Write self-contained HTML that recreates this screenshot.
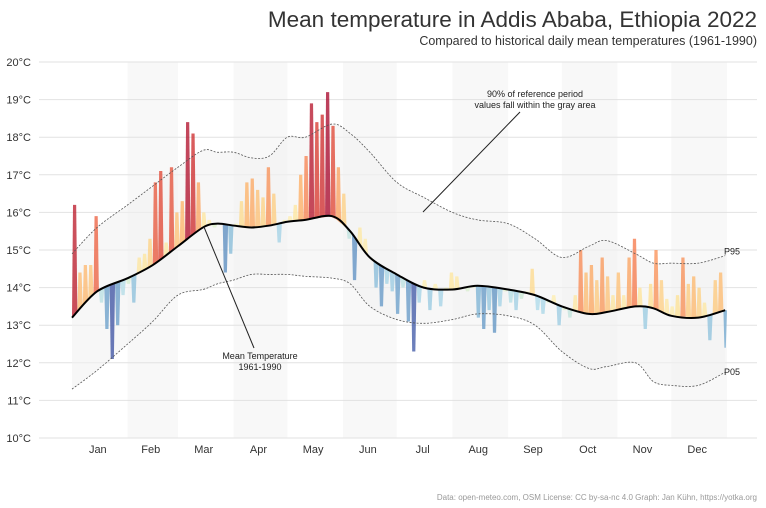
<!DOCTYPE html>
<html><head><meta charset="utf-8"><style>
body{margin:0;background:#fff;}
svg{display:block;font-family:"Liberation Sans",sans-serif;}
</style></head><body>
<svg id="chart" width="766" height="508" viewBox="0 0 766 508">
<g id="bands"></g><g id="grid"></g><g id="ref"></g><g id="bars"></g><g id="lines"></g><g id="labels"></g>
<text x="757" y="27" text-anchor="end" font-size="22.5" fill="#333">Mean temperature in Addis Ababa, Ethiopia 2022</text>
<text x="757" y="45" text-anchor="end" font-size="12.5" fill="#333">Compared to historical daily mean temperatures (1961-1990)</text>
<text x="757" y="500" text-anchor="end" font-size="8" fill="#999">Data: open-meteo.com, OSM  License: CC by-sa-nc 4.0  Graph: Jan Kühn, https://yotka.org</text>
<g>
<text x="535" y="97" text-anchor="middle" font-size="9" fill="#222">90% of reference period</text>
<text x="535" y="108" text-anchor="middle" font-size="9" fill="#222">values fall within the gray area</text>
<line x1="520" y1="112" x2="423" y2="212" stroke="#222" stroke-width="1"/>
</g>
<g>
<text x="260" y="359" text-anchor="middle" font-size="9" fill="#222">Mean Temperature</text>
<text x="260" y="370" text-anchor="middle" font-size="9" fill="#222">1961-1990</text>
<line x1="204" y1="227" x2="254" y2="348" stroke="#222" stroke-width="1"/>
</g>
</svg>
<script>
const monthNames=["Jan","Feb","Mar","Apr","May","Jun","Jul","Aug","Sep","Oct","Nov","Dec"];
const monthStarts=[0,31,59,90,120,151,181,212,243,273,304,334,365];
const yTicks=[10,11,12,13,14,15,16,17,18,19,20];
const refDays=[0,14,31,45,59,73,81,90,100,110,120,130,145,155,166,181,196,212,226,243,258,273,288,298,314,324,334,349,364];
const meanValues=[13.2,13.9,14.25,14.6,15.1,15.6,15.7,15.65,15.6,15.65,15.75,15.8,15.9,15.5,14.8,14.35,14.0,13.95,14.05,13.95,13.8,13.5,13.3,13.35,13.5,13.45,13.25,13.2,13.4];
const p95Values=[14.9,15.6,16.2,16.7,17.2,17.65,17.6,17.6,17.45,17.5,18.0,18.0,18.35,18.1,17.6,16.8,16.4,16.0,15.8,15.7,15.3,14.8,15.1,15.25,14.9,14.65,14.65,14.65,14.85];
const p05Values=[11.3,11.8,12.5,13.1,13.8,13.95,14.1,14.2,14.35,14.35,14.35,14.3,14.25,14.1,13.5,13.15,13.05,13.15,13.3,13.25,13.0,12.3,11.85,11.9,12.0,11.5,11.4,11.4,11.75];
const tempDays=[0,3,6,9,12,15,18,21,24,27,30,33,36,39,42,45,48,51,54,57,60,63,66,69,72,75,78,81,84,87,90,93,96,99,102,105,108,111,114,117,120,123,126,129,132,135,138,141,144,147,150,153,156,159,162,165,168,171,174,177,180,183,186,189,192,195,198,201,204,207,210,213,216,219,222,225,228,231,234,237,240,243,246,249,252,255,258,261,264,267,270,273,276,279,282,285,288,291,294,297,300,303,306,309,312,315,318,321,324,327,330,333,336,339,342,345,348,351,354,357,360,363];
const tempValues=[16.2,14.4,14.6,14.6,15.9,13.6,12.9,12.1,13.0,13.8,14.1,13.6,14.8,14.9,15.3,16.8,17.1,15.2,17.2,16.0,16.3,18.4,18.1,16.8,16.0,15.8,15.6,15.7,14.4,14.9,15.7,16.3,16.8,16.9,16.6,16.4,17.2,16.5,15.2,15.8,15.9,16.2,17.0,17.5,18.9,18.4,18.6,19.2,18.3,17.2,16.5,15.3,14.2,15.6,15.3,14.8,14.0,13.5,14.1,13.9,13.3,14.0,13.1,12.3,13.6,14.2,13.4,14.1,13.5,14.0,14.4,14.3,14.0,13.9,14.0,13.2,12.9,13.4,12.8,13.5,13.9,13.6,13.4,13.7,13.9,14.5,13.4,13.3,13.6,13.8,13.0,13.4,13.2,13.8,15.0,14.4,14.6,14.2,14.8,14.3,13.8,14.4,13.8,14.8,15.3,14.0,12.9,14.1,15.0,14.2,13.7,13.5,13.8,14.8,14.1,14.3,14.0,13.6,12.6,14.2,14.4,12.4];
const NS="http://www.w3.org/2000/svg";
const X0=72,X1=727;
function xs(d){return X0+d*(X1-X0)/365;}
function ys(t){return 438-(t-10)*37.6;}
function interp(days,vals,d){for(let i=0;i<days.length-1;i++){if(d<=days[i+1]){const f=(d-days[i])/(days[i+1]-days[i]);return vals[i]+f*(vals[i+1]-vals[i]);}}return vals[vals.length-1];}
function mk(tag,attrs,parent){const e=document.createElementNS(NS,tag);for(const k in attrs)e.setAttribute(k,attrs[k]);parent.appendChild(e);return e;}
function smoothPath(days,vals){let pts=days.map((d,i)=>[xs(d),ys(vals[i])]);let s="M"+pts[0][0]+","+pts[0][1];for(let i=0;i<pts.length-1;i++){const p0=pts[Math.max(0,i-1)],p1=pts[i],p2=pts[i+1],p3=pts[Math.min(pts.length-1,i+2)];const c1=[p1[0]+(p2[0]-p0[0])/6,p1[1]+(p2[1]-p0[1])/6],c2=[p2[0]-(p3[0]-p1[0])/6,p2[1]-(p3[1]-p1[1])/6];s+=" C"+c1[0]+","+c1[1]+" "+c2[0]+","+c2[1]+" "+p2[0]+","+p2[1];}return s;}
const bands=document.getElementById('bands'),grid=document.getElementById('grid'),ref=document.getElementById('ref'),bars=document.getElementById('bars'),lines=document.getElementById('lines'),labels=document.getElementById('labels');
for(let m=1;m<12;m+=2){const r=mk('rect',{x:xs(monthStarts[m]),y:62,width:xs(monthStarts[m+1])-xs(monthStarts[m]),height:376,fill:'#f8f8f8'},bands);

}
yTicks.forEach(t=>{const l=mk('line',{x1:39,x2:757,y1:ys(t),y2:ys(t),stroke:'#e2e2e2','stroke-width':1},grid);


const tx=mk('text',{x:31,y:ys(t)+4,'text-anchor':'end','font-size':11,fill:'#333'},labels);tx.textContent=t+'°C';

});
monthNames.forEach((n,m)=>{const tx=mk('text',{x:(xs(monthStarts[m])+xs(monthStarts[m+1]))/2-2,y:453,'text-anchor':'middle','font-size':11,fill:'#333'},labels);tx.textContent=n;

});
const up=smoothPath(refDays,p95Values);
const rdays=refDays.slice().reverse(),rp05=p05Values.slice().reverse();
const dn=smoothPath(rdays,rp05).replace(/^M/,' L');
const area=mk('path',{d:up+dn+' Z',fill:'#f2f2f2','fill-opacity':0.6},ref);


function colorFor(a){const stops=[[-2.2,[49,54,149]],[-1.5,[69,117,180]],[-0.9,[116,173,209]],[-0.4,[171,217,233]],[-0.05,[224,243,200]],[0.1,[254,240,180]],[0.6,[254,224,144]],[1.2,[253,174,97]],[1.9,[244,109,67]],[2.6,[215,48,39]],[3.3,[165,0,38]]];
if(a<=stops[0][0])return 'rgb('+stops[0][1]+')';for(let i=0;i<stops.length-1;i++){if(a<=stops[i+1][0]){const f=(a-stops[i][0])/(stops[i+1][0]-stops[i][0]);const c=stops[i][1].map((v,j)=>Math.round(v+f*(stops[i+1][1][j]-v)));return 'rgb('+c+')';}}return 'rgb('+stops[stops.length-1][1]+')';}
tempDays.forEach((d,i)=>{const t=tempValues[i];const m=interp(refDays,meanValues,d);const xa=xs(d),xb=xs(Math.min(d+3,365));
const p=mk('path',{d:'M'+xa+','+ys(m)+' L'+(xa+1)+','+ys(t)+' L'+(xb-1.2)+','+ys(t)+' L'+xb+','+ys(interp(refDays,meanValues,d+3))+' Z',fill:colorFor(t-m),'fill-opacity':0.75},bars);

});
const p95=mk('path',{d:up,fill:'none',stroke:'#555','stroke-width':0.8,'stroke-dasharray':'2,1.5'},lines);


const p05=mk('path',{d:smoothPath(refDays,p05Values),fill:'none',stroke:'#555','stroke-width':0.8,'stroke-dasharray':'2,1.5'},lines);


const mean=mk('path',{d:smoothPath(refDays,meanValues),fill:'none',stroke:'#000','stroke-width':2},lines);


const t95=mk('text',{x:724,y:ys(p95Values[p95Values.length-1])-1,'font-size':9,fill:'#222'},labels);t95.textContent='P95';


const t05=mk('text',{x:724,y:ys(p05Values[p05Values.length-1])+3,'font-size':9,fill:'#222'},labels);t05.textContent='P05';


</script>
</body></html>
